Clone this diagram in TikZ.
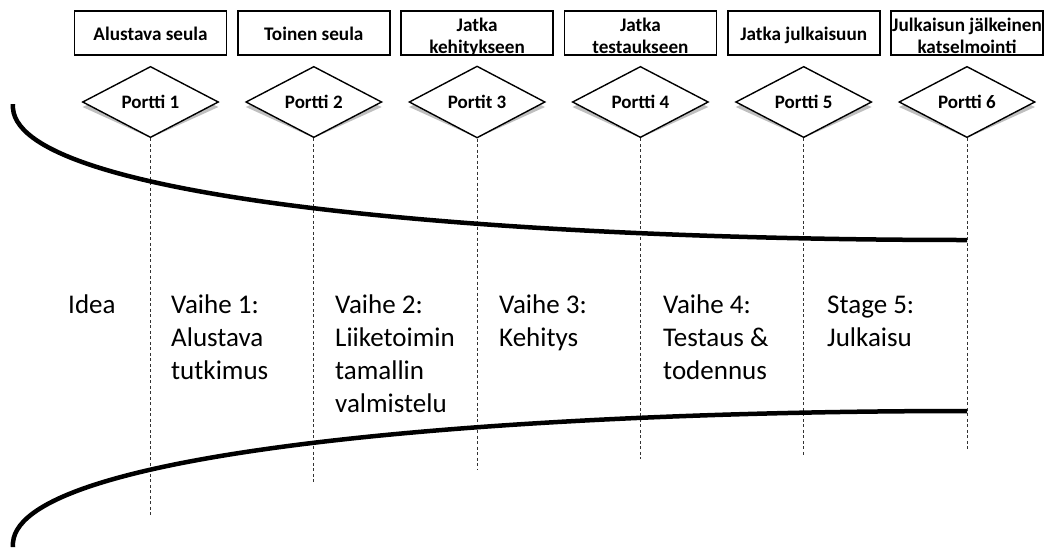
\documentclass[tikz,border=0pt]{standalone}
\usepackage{fontspec}
\setmainfont{Carlito}
\usetikzlibrary{shapes.geometric}

\begin{document}
\begin{tikzpicture}[x=1pt,y=-1pt,
  gatebox/.style={draw, line width=1.8pt, minimum width=152pt, minimum height=44pt,
    inner sep=0pt},
  boxlabel/.style={anchor=north, inner sep=0pt, align=center,
    font=\bfseries\fontsize{19.2}{22}\selectfont},
  gate/.style={diamond, draw, line width=1.4pt, fill=white, minimum width=136pt,
    minimum height=62pt, inner sep=0pt, font=\bfseries\fontsize{19}{22}\selectfont},
  gateshadow/.style={diamond, fill=black!25, minimum width=136pt, minimum height=62pt,
    inner sep=0pt},
  guide/.style={dash pattern=on 3pt off 2.5pt, line width=0.8pt, black!80},
  funnel/.style={line width=4.5pt, line cap=butt},
  stagetext/.style={anchor=north west, inner sep=0pt, align=left,
    font=\fontsize{27}{33}\selectfont}]
\useasboundingbox (0,0) rectangle (1060,547);

% decision boxes, gates and guide lines
\foreach \i/\x/\yend/\ly/\btext/\gtext in {
  1/150.5/515/26/{Alustava seula}/{Portti 1},
  2/313.8/484/26/{Toinen seula}/{Portti 2},
  3/477.1/470/17/{Jatka\\kehitykseen}/{Portit 3},
  4/640.4/459/17/{Jatka\\testaukseen}/{Portti 4},
  5/803.7/456/26/{Jatka julkaisuun}/{Portti 5},
  6/967.0/451/17/{Julkaisun jälkeinen\\katselmointi}/{Portti 6}}{
  \node[gatebox] (box\i) at (\x,33) {};
  \node[boxlabel] (boxtext\i) at (\x,\ly) {\rule{0pt}{14pt}\btext};
  \node[gateshadow] (shadow\i) at (\x,107) {};
  \node[gate] (gate\i) at (\x,102) {\gtext};
  \coordinate (end\i) at (\x,\yend);
  \draw[guide] (gate\i.south) -- (end\i);
}

% funnel outline, upper and lower edge
\draw[funnel] (13,104) .. controls (5,200) and (500,240) .. (967,240);
\draw[funnel] (13,547) .. controls (5,451) and (500,411) .. (967,411);

% stage labels
\node[stagetext] (idea) at (68,294) {\rule{0pt}{19pt}Idea};
\node[stagetext] (s1) at (171,294) {\rule{0pt}{19pt}Vaihe 1:\\Alustava\\tutkimus};
\node[stagetext] (s2) at (335,294) {\rule{0pt}{19pt}Vaihe 2:\\Liiketoimin\\tamallin\\valmistelu};
\node[stagetext] (s3) at (499,294) {\rule{0pt}{19pt}Vaihe 3:\\Kehitys};
\node[stagetext] (s4) at (663,294) {\rule{0pt}{19pt}Vaihe 4:\\Testaus \&\\todennus};
\node[stagetext] (s5) at (827,294) {\rule{0pt}{19pt}Stage 5:\\Julkaisu};
\end{tikzpicture}
\end{document}
